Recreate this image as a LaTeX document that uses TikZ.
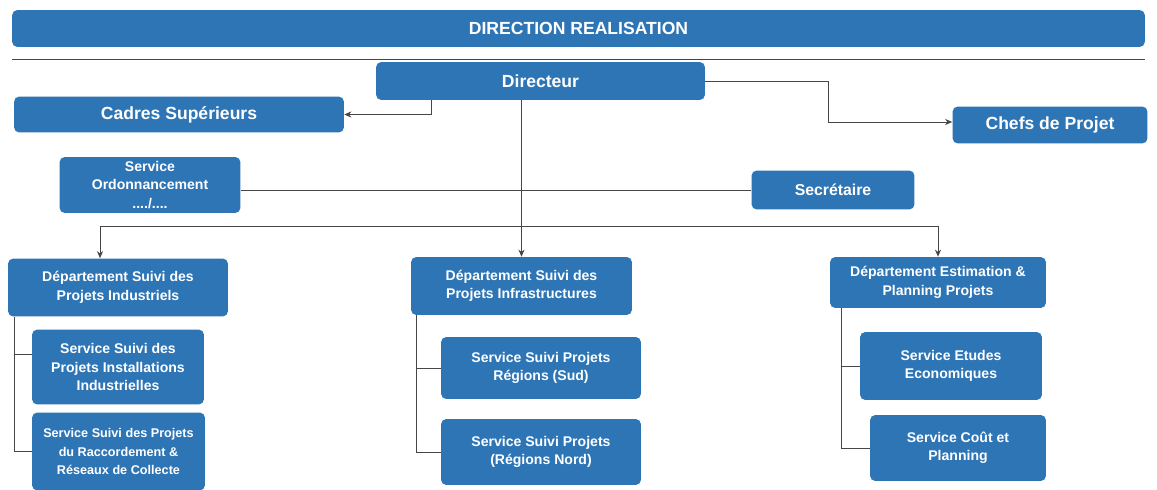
\documentclass[tikz,border=0pt]{standalone}
\usepackage{fontspec}
\setmainfont{Liberation Sans}
\usetikzlibrary{arrows.meta, positioning, calc}
\definecolor{orgblue}{RGB}{46,117,182}
\definecolor{linkgray}{RGB}{70,70,70}

\begin{document}
\begin{tikzpicture}[
    x=0.02cm, y=-0.02cm,
    box/.style={fill=orgblue,rounded corners=3pt,inner sep=0pt,
                align=center,text=white,font=\bfseries},
    big/.style={box,font=\fontsize{10}{12}\selectfont\bfseries},
    sub/.style={box,font=\fontsize{8}{10.5}\selectfont\bfseries},
    link/.style={draw=linkgray,line width=0.5pt},
    arr/.style={link,-{Stealth[length=4pt,width=3.5pt]}}
]
  \useasboundingbox (0,0) rectangle (1157,490);

  % Header
  \node[big,minimum width=22.66cm,minimum height=0.74cm] (title) at (578.5,28.5) {DIRECTION REALISATION};
  \draw[link] (12,59) -- (1145,59);

  % Boxes
  \node[big,minimum width=6.58cm,minimum height=0.76cm] (dir) at (540.5,81) {Directeur};
  \node[big,minimum width=6.6cm,minimum height=0.72cm] (cadres) at (179,114.5) {Cadres Supérieurs};
  \node[big,minimum width=3.9cm,minimum height=0.74cm] (chefs) at (1050,125) {Chefs de Projet};
  \node[sub,minimum width=3.62cm,minimum height=1.12cm] (ordo) at (150,185) {Service\\Ordonnancement\\..../....};
  \node[big,font=\fontsize{9}{11}\selectfont\bfseries,minimum width=3.26cm,minimum height=0.78cm] (secr) at (833,190) {Secrétaire};

  \node[sub,minimum width=4.4cm,minimum height=1.16cm] (dind) at (118,287.5) {Département Suivi des\\Projets Industriels};
  \node[sub,minimum width=3.44cm,minimum height=1.5cm] (sind1) at (118,367) {Service Suivi des\\Projets Installations\\Industrielles};
  \node[sub,font=\fontsize{7.2}{10.5}\selectfont\bfseries,minimum width=3.46cm,minimum height=1.56cm] (sind2) at (118.5,451.5) {Service Suivi des Projets\\du Raccordement \&\\Réseaux de Collecte};

  \node[sub,minimum width=4.42cm,minimum height=1.16cm] (dinf) at (521.5,286) {Département Suivi des\\Projets Infrastructures};
  \node[sub,minimum width=4cm,minimum height=1.24cm] (sinf1) at (541,368) {Service Suivi Projets\\Régions (Sud)};
  \node[sub,minimum width=4cm,minimum height=1.32cm] (sinf2) at (541,452) {Service Suivi Projets\\(Régions Nord)};

  \node[sub,minimum width=4.32cm,minimum height=1.02cm] (dest) at (938,282.5) {Département Estimation \&\\Planning Projets};
  \node[sub,minimum width=3.64cm,minimum height=1.36cm] (sest1) at (951,366) {Service Etudes\\Economiques};
  \node[sub,minimum width=3.52cm,minimum height=1.32cm] (sest2) at (958,448) {Service Coût et\\Planning};

  % Arrows
  \coordinate (bus) at (0,226);
  \draw[arr] ([xshift=1.12cm]dir.south west) |- (cadres.east);
  \draw[arr] (dir.east) -- ++(123,0) |- ([yshift=0.06cm]chefs.west);
  \draw[link] (ordo.east |- secr.west) -- (secr.west);
  \draw[arr] (dir.south -| dinf.north) -- (dinf.north);
  \draw[link] ([xshift=-0.36cm]dind.north |- bus) -- (dest.north |- bus);
  \draw[arr] ([xshift=-0.36cm]dind.north |- bus) -- ([xshift=-0.36cm]dind.north);
  \draw[arr] (dest.north |- bus) -- (dest.north);

  % Services
  \draw[link] ([xshift=0.14cm]dind.south west) |- ([yshift=0.26cm]sind1.west);
  \draw[link] ([xshift=0.14cm]dind.south west) |- (sind2.west);
  \draw[link] ([xshift=0.12cm]dinf.south west) |- (sinf1.west);
  \draw[link] ([xshift=0.12cm]dinf.south west) |- (sinf2.west);
  \draw[link] ([xshift=0.24cm]dest.south west) |- (sest1.west);
  \draw[link] ([xshift=0.24cm]dest.south west) |- (sest2.west);
\end{tikzpicture}
\end{document}
